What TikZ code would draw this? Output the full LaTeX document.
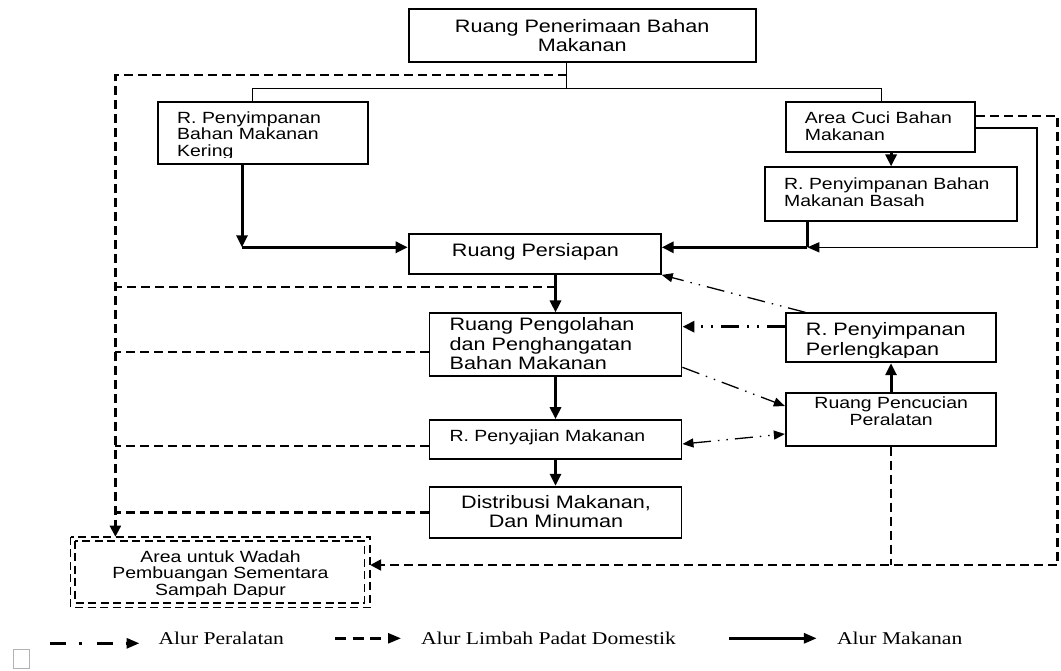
\documentclass[tikz,border=0pt]{standalone}
\usepackage{fontspec}
\setmainfont{Liberation Sans}[FakeStretch=1.2]
\newfontfamily\legendfamily{Liberation Serif}[FakeStretch=1.2]
\usetikzlibrary{arrows.meta}
\newcommand{\roomlarge}{\fontsize{18}{19.3}\selectfont}
\newcommand{\roomsmall}{\fontsize{16.2}{16.5}\selectfont}
\tikzset{
  room/.style={draw=black, line width=1.8pt, inner sep=0pt},
  room-text/.style={inner sep=0pt, align=left, font=\roomlarge},
  room-text-small/.style={room-text, font=\roomsmall},
  bin-line/.style={line width=1.6pt, dash pattern=on 8pt off 4.5pt},
  tree/.style={line width=1.6pt},
  food/.style={line width=3pt, -{Triangle[length=12pt,width=11pt]}},
  food-line/.style={line width=3pt},
  waste/.style={line width=2.3pt, dash pattern=on 9pt off 5pt},
  waste-arrow/.style={waste, -{Triangle[length=11pt,width=11pt]}},
  tool/.style={line width=1.3pt, dash pattern=on 18pt off 7pt on 1.5pt off 7pt on 1.5pt off 7pt, -{Triangle[length=11pt,width=9pt]}},
  tool-thick/.style={line width=3pt, dash pattern=on 18pt off 8pt on 2pt off 8pt on 2pt off 8pt, -{Triangle[length=12pt,width=11pt]}},
  legend/.style={inner sep=0pt, font=\legendfamily\fontsize{18}{20}\selectfont},
  legend-tool/.style={line width=3pt, dash pattern=on 16pt off 12.5pt on 3pt off 15.5pt, -{Triangle[length=13pt,width=10pt]}},
  legend-waste/.style={line width=2.5pt, dash pattern=on 11pt off 6.5pt, -{Triangle[length=13pt,width=10pt]}},
  legend-food/.style={line width=3pt, -{Triangle[length=13pt,width=10pt]}}
}

\begin{document}
\begin{tikzpicture}[x=1pt, y=-1pt]
  \useasboundingbox (0,0) rectangle (1061,670);
  % rooms
  \node[room, minimum width=347.1pt, minimum height=53.3pt] (top) at (582.2,35.7) {};
  \node[room, minimum width=210.7pt, minimum height=62.6pt] (ker) at (263,133) {};
  \node[room, minimum width=189.1pt, minimum height=50pt] (cuci) at (880.3,126.7) {};
  \node[room, minimum width=252.2pt, minimum height=53.4pt] (bas) at (891.1,194) {};
  \node[room, minimum width=252.2pt, minimum height=40pt] (pers) at (534.7,254) {};
  \node[room, minimum width=252.1pt, minimum height=62.7pt] (olah) at (555.5,344.7) {};
  \node[room, minimum width=252.1pt, minimum height=39.3pt] (saji) at (555.5,439.7) {};
  \node[room, minimum width=252.1pt, minimum height=51.6pt] (dist) at (555.5,512.5) {};
  \node[room, minimum width=210.5pt, minimum height=49pt] (perl) at (891,337.8) {};
  \node[room, minimum width=210.5pt, minimum height=52.4pt] (pcu) at (891,419.5) {};
  % waste bin (double dashed frame)
  \node[minimum width=299.6pt, minimum height=70.6pt, inner sep=0pt, outer sep=0pt] (bin) at (220.4,572) {};
  \draw[bin-line] (bin.north west) rectangle (bin.south east);
  \draw[bin-line] ([shift={(4.4,4)}]bin.north west) rectangle ([shift={(-5.9,-4.6)}]bin.south east);

  % room texts (base = last line)
  \node[room-text, anchor=base, align=center] (top-t) at (582.2,51.7) {Ruang Penerimaan Bahan\\Makanan};
  \begin{scope}
    \clip (ker.north west) rectangle (368.3,157);
    \node[room-text-small, anchor=base west] (ker-t) at (177,156) {R. Penyimpanan\\Bahan Makanan\\Kering};
  \end{scope}
  \node[room-text-small, anchor=base west] (cuci-t) at (804.7,140) {Area Cuci Bahan\\Makanan};
  \node[room-text-small, anchor=base west] (bas-t) at (784,206) {R. Penyimpanan Bahan\\Makanan Basah};
  \node[room-text, anchor=base] (pers-t) at (535.4,256.7) {Ruang Persiapan};
  \node[room-text, anchor=base west] (olah-t) at (449.4,369.3) {Ruang Pengolahan\\dan Penghangatan\\Bahan Makanan};
  \node[room-text-small, anchor=base west] (saji-t) at (449.4,441) {R. Penyajian Makanan};
  \node[room-text, anchor=base, align=center] (dist-t) at (556,527.7) {Distribusi Makanan,\\Dan Minuman};
  \begin{scope}
    \clip (perl.north west) rectangle (996.2,357.3);
    \node[room-text, anchor=base west] (perl-t) at (805.7,355) {R. Penyimpanan\\Perlengkapan};
  \end{scope}
  \node[room-text-small, anchor=base, align=center] (pcu-t) at (891.2,425.3) {Ruang Pencucian\\Peralatan};
  \begin{scope}
    \clip (bin.north west) rectangle (370.2,596.5);
    \node[room-text-small, anchor=base, align=center] (bin-t) at (220.5,595) {Area untuk Wadah\\Pembuangan Sementara\\Sampah Dapur};
  \end{scope}

  % receiving split
  \coordinate (stem) at (566.6,88.3);
  \coordinate (tl) at (252.4,88.3);
  \coordinate (tr) at (881.3,88.3);
  \draw[tree] (top.south -| stem) -- (stem);
  \draw[tree] (ker.north -| tl) -- (tl) -- (tr) -- (cuci.north -| tr);

  % food flow
  \coordinate (k1) at (242,247.3);
  \draw[food] (ker.south -| k1) -- (k1);
  \draw[food] (k1) -- (k1 -| pers.west);
  \draw[food] (cuci.south -| bas.north) -- (bas.north);
  \coordinate (b1) at (807.4,247.3);
  \draw[food-line] (bas.south -| b1) -- (b1);
  \draw[food] (b1) -- (b1 -| pers.east);
  \coordinate (c1) at (1036.9,127.7);
  \coordinate (c2) at (1036.9,247.3);
  \draw[tree, -{Triangle[length=12pt,width=10pt]}] (cuci.east |- c1) -- (c1) -- (c2) -- (b1);
  \draw[food] (pers.south -| olah.north) -- (olah.north);
  \draw[food] (olah.south) -- (saji.north);
  \draw[food] (saji.south) -- (dist.north);
  \draw[food] (pcu.north) -- (perl.south);

  % waste flow
  \coordinate (w0) at (566.6,75);
  \coordinate (wl) at (115.4,75);
  \draw[waste-arrow] (w0) -- (wl) -- (wl |- bin.north);
  \coordinate (w1) at (555.5,286.7);
  \draw[waste] (w1) -- (w1 -| wl);
  \draw[waste] (olah.west |- 0,352.3) -- (wl |- 0,352.3);
  \draw[waste] (saji.west |- 0,445.7) -- (wl |- 0,445.7);
  \draw[waste] (dist.west) -- (dist.west -| wl);
  \coordinate (r1) at (1057.6,115.7);
  \coordinate (r2) at (1057.6,565);
  \draw[waste-arrow] (cuci.east |- r1) -- (r1) -- (r2) -- (r2 -| bin.east);
  \draw[waste] (pcu.south) -- (pcu.south |- r2);

  % equipment flow
  \draw[tool-thick] (perl.west |- 0,326.7) -- (olah.east |- 0,326.7);
  \draw[tool] ([xshift=20.7pt]perl.north west) -- (pers.south east);
  \draw[tool] (olah.east |- 0,367.3) -- (pcu.west |- 0,406);
  \draw[tool, {Triangle[length=11pt,width=9pt]}-{Triangle[length=11pt,width=9pt]}] (saji.east |- 0,444) -- (pcu.west |- 0,434);

  % legend
  \coordinate (lt0) at (50,643.3);
  \coordinate (lt1) at (139.5,643.3);
  \coordinate (lw0) at (335,638.3);
  \coordinate (lw1) at (401,638.3);
  \coordinate (lf0) at (728.8,638.3);
  \coordinate (lf1) at (816.8,638.3);
  \draw[legend-tool] (lt0) -- (lt1);
  \draw[legend-waste] (lw0) -- (lw1);
  \draw[legend-food] (lf0) -- (lf1);
  \node[legend, anchor=base west] (lg-tool) at (158.4,644.3) {Alur Peralatan};
  \node[legend, anchor=base west] (lg-waste) at (420.8,644.3) {Alur Limbah Padat Domestik};
  \node[legend, anchor=base west] (lg-food) at (836.8,644.3) {Alur Makanan};
  \draw[gray!60, line width=0.8pt] (13.8,649.3) rectangle (29.3,668.3);
\end{tikzpicture}
\end{document}
